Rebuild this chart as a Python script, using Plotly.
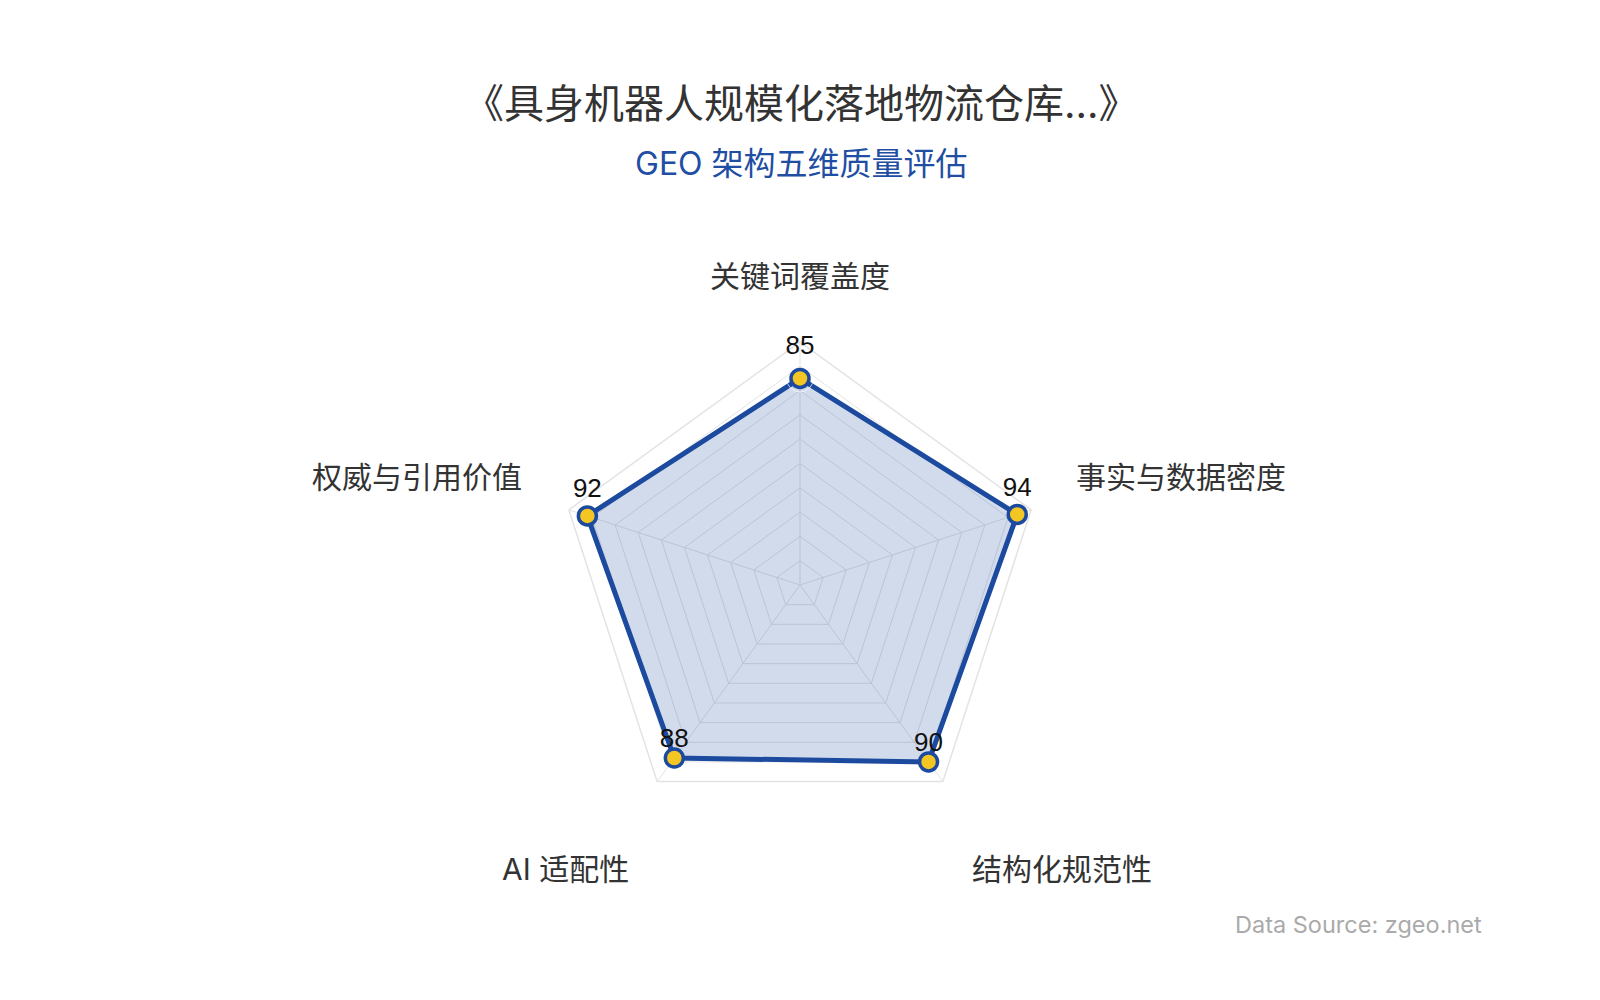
import plotly.graph_objects as go

# data
categories = ['关键词覆盖度', '事实与数据密度', '结构化规范性', 'AI 适配性', '权威与引用价值']
scores = [85, 94, 90, 88, 92]
value_labels = [str(v) for v in scores]

title_text = '《具身机器人规模化落地物流仓库...》'
subtitle_text = 'GEO 架构五维质量评估'
source_text = 'Data Source: zgeo.net'

W, H = 1600, 1000
FONT = 'Inter, Noto Sans CJK SC, sans-serif'
BLUE = '#1c4a9e'
GRID = '#e3e3e3'


def px(x, y):
    'pixel position -> paper coords (margins are zero)'
    return x / W, 1 - y / H


fig = go.Figure()

'Filled closed outline'
fig.add_trace(go.Scatterpolar(
    r=scores + scores[:1],
    theta=categories + categories[:1],
    mode='lines',
    fill='toself',
    fillcolor='rgba(30,75,160,0.2)',
    line=dict(color=BLUE, width=5),
    hoverinfo='skip',
    showlegend=False,
))

'Value labels (invisible markers set the gap above each point)'
fig.add_trace(go.Scatterpolar(
    r=scores,
    theta=categories,
    mode='markers+text',
    text=value_labels,
    textposition='top center',
    textfont=dict(family='Liberation Sans, Arial, sans-serif', size=26, color='#111111'),
    marker=dict(color='rgba(0,0,0,0)', size=[27, 18, 6, 6, 18]),
    cliponaxis=False,
    hoverinfo='skip',
    showlegend=False,
))

'Points'
fig.add_trace(go.Scatterpolar(
    r=scores,
    theta=categories,
    mode='markers',
    marker=dict(color='#f3c623', size=18, line=dict(color=BLUE, width=3.5)),
    cliponaxis=False,
    showlegend=False,
))

fig.update_layout(
    width=W, height=H,
    margin=dict(l=0, r=0, t=0, b=0),
    paper_bgcolor='white',
    plot_bgcolor='white',
    font=dict(family=FONT, color='#333333'),
    polar=dict(
        domain=dict(x=[549 / W, 1035 / W], y=[1 - 820 / H, 1 - 334 / H]),
        bgcolor='white',
        gridshape='linear',
        radialaxis=dict(range=[0, 100], dtick=10, showticklabels=False, ticks='',
                        showline=False, gridcolor=GRID, gridwidth=1, layer='below traces'),
        angularaxis=dict(direction='clockwise', rotation=90, showticklabels=False, ticks='',
                         showline=True, linecolor=GRID, linewidth=1.5,
                         gridcolor=GRID, gridwidth=1, layer='below traces'),
    ),
)

'Titles and source'
annos = []
x, y = px(793, 96)
annos.append(dict(text=title_text, x=x, y=y, font=dict(size=40, color='#333333')))
x, y = px(793, 155)
annos.append(dict(text=subtitle_text, x=x, y=y, font=dict(size=32, color='#1f4ea3')))
x, y = px(1476, 916)
annos.append(dict(text=source_text, x=x, y=y, xanchor='right', font=dict(size=23.5, color='#aaaaaa')))

'Category names around the radar'
name_pos = [(792, 268), (1173, 469), (1054, 861), (557, 861), (409, 469)]
for name, (cx, cy) in zip(categories, name_pos):
    x, y = px(cx, cy)
    annos.append(dict(text=name, x=x, y=y, font=dict(size=30, color='#333333')))

for a in annos:
    a.update(xref='paper', yref='paper', showarrow=False)
    a.setdefault('xanchor', 'center')
    a['yanchor'] = 'middle'
fig.update_layout(annotations=annos)

fig.write_html('out.html')
